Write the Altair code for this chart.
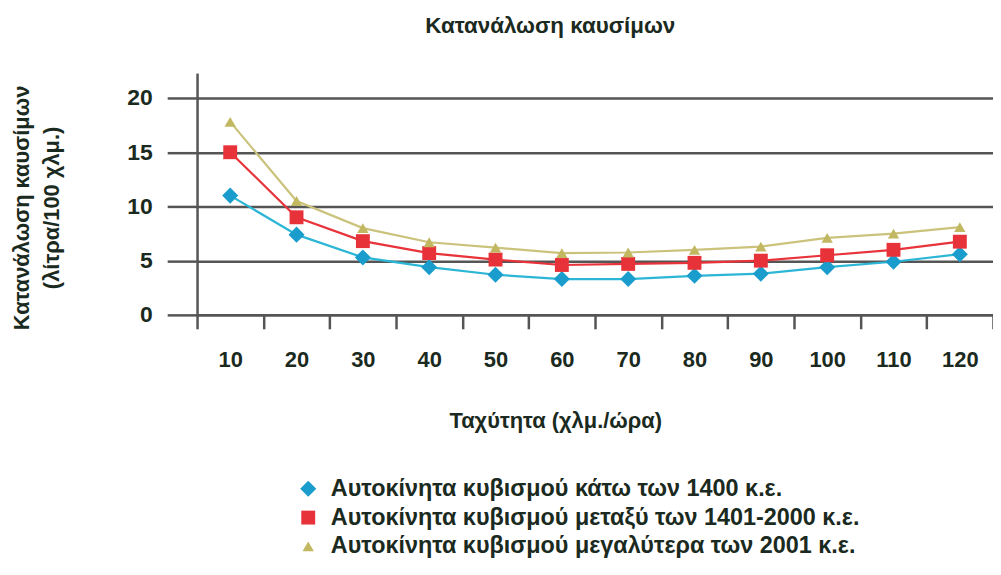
import altair as alt
import pandas as pd

speeds = ["10", "20", "30", "40", "50", "60", "70", "80", "90", "100", "110", "120"]
series_names = [
    "Αυτοκίνητα κυβισμού κάτω των 1400 κ.ε.",
    "Αυτοκίνητα κυβισμού μεταξύ των 1401-2000 κ.ε.",
    "Αυτοκίνητα κυβισμού μεγαλύτερα των 2001 κ.ε.",
]
small = [11.0, 7.4, 5.3, 4.4, 3.7, 3.3, 3.3, 3.6, 3.8, 4.4, 4.9, 5.6]
medium = [15.0, 9.0, 6.8, 5.7, 5.1, 4.6, 4.7, 4.8, 5.0, 5.5, 6.0, 6.75]
large = [17.8, 10.5, 8.0, 6.7, 6.2, 5.7, 5.75, 6.0, 6.3, 7.1, 7.5, 8.1]

line_colors = ["#2cb6d6", "#e8333a", "#cbc27c"]
marker_colors = ["#1a9dcc", "#e8323a", "#c2b862"]
shapes = ["diamond", "square", "triangle-up"]

rows = []
for name, vals in zip(series_names, [small, medium, large]):
    for s, v in zip(speeds, vals):
        rows.append({"speed": s, "value": v, "series": name})
df = pd.DataFrame(rows)

FONT = "Liberation Sans"
TXT = "#1b2a20"
GRID = "#555555"

x_enc = alt.X(
    "speed:O",
    sort=speeds,
    scale=alt.Scale(paddingInner=0, paddingOuter=0),
    axis=alt.Axis(
        title="Ταχύτητα (χλμ./ώρα)",
        labelAngle=0,
        tickBand="extent",
        tickSize=14,
        tickWidth=2.5,
        tickColor=GRID,
        domainColor=GRID,
        domainWidth=2.5,
        labelFontSize=22,
        labelFont=FONT,
        labelFontWeight="bold",
        labelColor=TXT,
        labelPadding=21,
        titleFontSize=22,
        titleFont=FONT,
        titleFontWeight="bold",
        titleColor=TXT,
        titleX=360,
        titleY=106,
        titleBaseline="middle",
        grid=False,
    ),
)
y_enc = alt.Y(
    "value:Q",
    scale=alt.Scale(domain=[0, 22.3], nice=False, zero=True),
    axis=alt.Axis(
        title=["Κατανάλωση καυσίμων", "(λίτρα/100 χλμ.)"],
        values=[0, 5, 10, 15, 20],
        grid=True,
        gridColor=GRID,
        gridWidth=2.5,
        gridOpacity=1,
        tickSize=30,
        tickWidth=2.5,
        tickColor=GRID,
        domainColor=GRID,
        domainWidth=2.5,
        labelFontSize=23,
        labelFont=FONT,
        labelFontWeight="bold",
        labelColor=TXT,
        labelPadding=15,
        titleFontSize=22,
        titleFont=FONT,
        titleFontWeight="bold",
        titleColor=TXT,
        titleLineHeight=30,
        titleAngle=270,
        titleX=-186,
        titleY=135,
        titleAlign="center",
        titleBaseline="top",
    ),
)

legend_def = alt.Legend(
    title=None,
    orient="none",
    legendX=100,
    legendY=406,
    labelFontSize=23.5,
    labelFont=FONT,
    labelFontWeight="bold",
    labelColor=TXT,
    labelLimit=900,
    symbolSize=110,
    rowPadding=4,
    labelOffset=11,
)

lines = alt.Chart(df).mark_line(strokeWidth=2.2).encode(
    x=x_enc,
    y=y_enc,
    stroke=alt.Stroke("series:N", scale=alt.Scale(domain=series_names, range=line_colors), legend=None),
    detail="series:N",
)

points = alt.Chart(df).mark_point(filled=True, opacity=1).encode(
    x=x_enc,
    y=y_enc,
    color=alt.Color("series:N", scale=alt.Scale(domain=series_names, range=marker_colors), legend=legend_def),
    shape=alt.Shape("series:N", scale=alt.Scale(domain=series_names, range=shapes)),
    size=alt.Size("series:N", scale=alt.Scale(domain=series_names, range=[260, 130, 170]), legend=None),
)

chart = (
    alt.layer(lines, points)
    .resolve_scale(color="independent", stroke="independent", shape="independent", size="independent")
    .properties(
        width=800,
        height=243,
        autosize=alt.AutoSizeParams(type="none"),
        padding={"left": 190, "top": 64, "right": 0, "bottom": 255},
        title=alt.TitleParams(
            "Κατανάλωση καυσίμων",
            fontSize=22.5,
            font=FONT,
            fontWeight="bold",
            color=TXT,
            anchor="middle",
            dx=-45,
            offset=36,
        ),
        background="white",
    )
    .configure_view(stroke=None)
)

chart.save("out.html", embed_options={"renderer": "svg", "actions": False})
